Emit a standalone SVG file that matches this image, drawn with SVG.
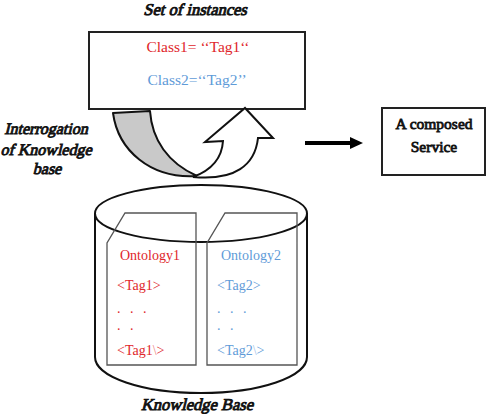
<svg xmlns="http://www.w3.org/2000/svg" width="487" height="415" viewBox="0 0 487 415">
<style>
.title{font-family:"Liberation Serif","Times New Roman",serif;font-size:16.5px;fill:#111;stroke:#111;stroke-width:0.9px}
.b{font-family:"Liberation Serif","Times New Roman",serif;font-size:15.5px;fill:#111;stroke:#111;stroke-width:0.8px}
.t{font-family:"Liberation Serif",serif;font-size:14px}
.red{fill:#e0262b}
.blue{fill:#5f9bd8}
.box{fill:#fff;stroke:#222;stroke-width:2}
.doc{fill:none;stroke:#555;stroke-width:1.3}
.cyl{fill:none;stroke:#111;stroke-width:2}
.dots{letter-spacing:3px}
</style>
<defs>
<marker id="ah" markerUnits="userSpaceOnUse" markerWidth="14" markerHeight="14" refX="2" refY="7" orient="auto">
<path d="M0,1 L13,7 L0,13 Z" fill="#000"/>
</marker>
</defs>
<g transform="translate(195,15) skewX(-14)"><text class="title" x="0" y="0" text-anchor="middle">Set of instances</text></g>
<g id="instances">
<rect class="box" x="89" y="32" width="216" height="77"/>
<text class="t red" x="198" y="52" text-anchor="middle" style="font-size:15.5px">Class1= ‘‘Tag1‘‘</text>
<text class="t blue" x="197" y="85" text-anchor="middle" style="font-size:15.5px">Class2=‘‘Tag2’’</text>
</g>
<g id="interrogation-label">
<g transform="translate(46,134) skewX(-14)"><text class="title" x="0" y="0" text-anchor="middle" style="font-size:16px">Interrogation</text></g>
<g transform="translate(46,155) skewX(-14)"><text class="title" x="0" y="0" text-anchor="middle" style="font-size:16px">of Knowledge</text></g>
<g transform="translate(47,174) skewX(-14)"><text class="title" x="0" y="0" text-anchor="middle" style="font-size:16px">base</text></g>
</g>
<g id="service">
<rect class="box" x="382" y="108" width="103" height="67"/>
<text class="b" x="434" y="129" text-anchor="middle">A composed</text>
<text class="b" x="434" y="152" text-anchor="middle">Service</text>
</g>
<g id="knowledge-base">
<path class="cyl" d="M95,213 L95,357 A106,36 0 0 0 307,357 L307,213"/>
<ellipse class="cyl" cx="201" cy="213.5" rx="106" ry="28.5"/>
<path class="doc" d="M125,213 L196,213 L196,365 L107,365 L107,243 Z"/>
<path class="doc" d="M225,213 L297,213 L297,365 L207,365 L207,243 Z"/>
<text class="t red" x="120" y="260">Ontology1</text>
<text class="t red" x="117" y="290">&lt;Tag1&gt;</text>
<text class="t red dots" x="117" y="313">. . .</text>
<text class="t red dots" x="117" y="330">. .</text>
<text class="t red" x="117" y="355">&lt;Tag1<tspan fill="#f08a8a">\</tspan>&gt;</text>
<text class="t blue" x="221" y="260">Ontology2</text>
<text class="t blue" x="217" y="290">&lt;Tag2&gt;</text>
<text class="t blue dots" x="217" y="313">. . .</text>
<text class="t blue dots" x="217" y="330">. .</text>
<text class="t blue" x="217" y="355">&lt;Tag2<tspan fill="#a8c8ec">\</tspan>&gt;</text>
<g transform="translate(197,410) skewX(-14)"><text class="title" x="0" y="0" text-anchor="middle">Knowledge Base</text></g>
</g>
<g id="connectors">
<path d="M113,113 L150,111 C152,140 168,163 197,176 C150,179 118,150 113,113 Z" fill="#c9c9c9" stroke="#111" stroke-width="2" stroke-linejoin="round"/>
<path d="M193,177 C212,170 222,157 223,141 L205,142 L245,108 L273,138 L258,138 C255,165 235,181 193,177 Z" fill="#fff" stroke="#111" stroke-width="2" stroke-linejoin="miter"/>
<line x1="305" y1="143" x2="352" y2="143" stroke="#000" stroke-width="4" marker-end="url(#ah)"/>
</g>
</svg>
